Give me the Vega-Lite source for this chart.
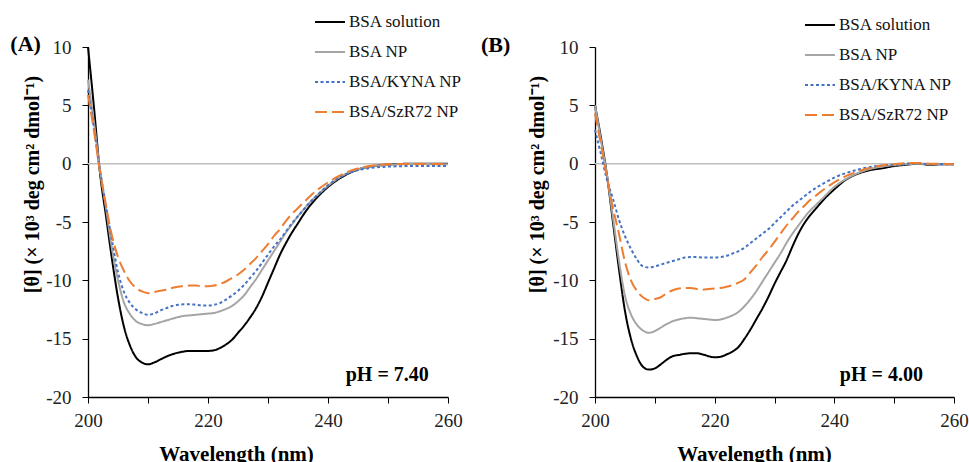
{
"$schema": "https://vega.github.io/schema/vega-lite/v6.json",
"padding": {"left": 10, "top": 6, "right": 0, "bottom": 0},
"spacing": 18,
"config": {"view": {"stroke": null}, "font": "Liberation Serif"},
"datasets": {
"A": [
{"s":"BSA solution","w":200,"v":10.0},{"s":"BSA solution","w":201,"v":4.8},{"s":"BSA solution","w":202,"v":-0.8},{"s":"BSA solution","w":203,"v":-4.5},{"s":"BSA solution","w":204,"v":-8.2},{"s":"BSA solution","w":205,"v":-11.5},{"s":"BSA solution","w":206,"v":-14.0},{"s":"BSA solution","w":207,"v":-15.6},{"s":"BSA solution","w":208,"v":-16.6},{"s":"BSA solution","w":209,"v":-17.05},{"s":"BSA solution","w":210,"v":-17.2},{"s":"BSA solution","w":211,"v":-17.05},{"s":"BSA solution","w":212,"v":-16.8},{"s":"BSA solution","w":213,"v":-16.55},{"s":"BSA solution","w":214,"v":-16.35},{"s":"BSA solution","w":215,"v":-16.2},{"s":"BSA solution","w":216,"v":-16.1},{"s":"BSA solution","w":217,"v":-16.05},{"s":"BSA solution","w":218,"v":-16.05},{"s":"BSA solution","w":219,"v":-16.05},{"s":"BSA solution","w":220,"v":-16.05},{"s":"BSA solution","w":221,"v":-16.0},{"s":"BSA solution","w":222,"v":-15.8},{"s":"BSA solution","w":223,"v":-15.5},{"s":"BSA solution","w":224,"v":-15.1},{"s":"BSA solution","w":225,"v":-14.5},{"s":"BSA solution","w":226,"v":-13.9},{"s":"BSA solution","w":227,"v":-13.2},{"s":"BSA solution","w":228,"v":-12.4},{"s":"BSA solution","w":229,"v":-11.4},{"s":"BSA solution","w":230,"v":-10.2},{"s":"BSA solution","w":231,"v":-9.0},{"s":"BSA solution","w":232,"v":-7.8},{"s":"BSA solution","w":233,"v":-6.8},{"s":"BSA solution","w":234,"v":-5.9},{"s":"BSA solution","w":235,"v":-5.1},{"s":"BSA solution","w":236,"v":-4.3},{"s":"BSA solution","w":237,"v":-3.6},{"s":"BSA solution","w":238,"v":-3.0},{"s":"BSA solution","w":240,"v":-2.0},{"s":"BSA solution","w":242,"v":-1.25},{"s":"BSA solution","w":244,"v":-0.7},{"s":"BSA solution","w":246,"v":-0.35},{"s":"BSA solution","w":248,"v":-0.18},{"s":"BSA solution","w":250,"v":-0.08},{"s":"BSA solution","w":252,"v":-0.03},{"s":"BSA solution","w":254,"v":0},{"s":"BSA solution","w":256,"v":0},{"s":"BSA solution","w":258,"v":0},{"s":"BSA solution","w":260,"v":0},
{"s":"BSA NP","w":200,"v":7.2},{"s":"BSA NP","w":201,"v":3.5},{"s":"BSA NP","w":202,"v":-0.5},{"s":"BSA NP","w":203,"v":-3.8},{"s":"BSA NP","w":204,"v":-7.3},{"s":"BSA NP","w":205,"v":-10.0},{"s":"BSA NP","w":206,"v":-11.9},{"s":"BSA NP","w":207,"v":-12.9},{"s":"BSA NP","w":208,"v":-13.5},{"s":"BSA NP","w":209,"v":-13.75},{"s":"BSA NP","w":210,"v":-13.85},{"s":"BSA NP","w":211,"v":-13.75},{"s":"BSA NP","w":212,"v":-13.6},{"s":"BSA NP","w":213,"v":-13.45},{"s":"BSA NP","w":214,"v":-13.3},{"s":"BSA NP","w":215,"v":-13.15},{"s":"BSA NP","w":216,"v":-13.05},{"s":"BSA NP","w":217,"v":-13.0},{"s":"BSA NP","w":218,"v":-12.95},{"s":"BSA NP","w":219,"v":-12.9},{"s":"BSA NP","w":220,"v":-12.85},{"s":"BSA NP","w":221,"v":-12.8},{"s":"BSA NP","w":222,"v":-12.65},{"s":"BSA NP","w":223,"v":-12.45},{"s":"BSA NP","w":224,"v":-12.2},{"s":"BSA NP","w":225,"v":-11.8},{"s":"BSA NP","w":226,"v":-11.3},{"s":"BSA NP","w":227,"v":-10.6},{"s":"BSA NP","w":228,"v":-9.9},{"s":"BSA NP","w":229,"v":-9.1},{"s":"BSA NP","w":230,"v":-8.3},{"s":"BSA NP","w":231,"v":-7.5},{"s":"BSA NP","w":232,"v":-6.7},{"s":"BSA NP","w":233,"v":-5.9},{"s":"BSA NP","w":234,"v":-5.2},{"s":"BSA NP","w":235,"v":-4.5},{"s":"BSA NP","w":236,"v":-3.9},{"s":"BSA NP","w":237,"v":-3.3},{"s":"BSA NP","w":238,"v":-2.8},{"s":"BSA NP","w":240,"v":-1.9},{"s":"BSA NP","w":242,"v":-1.15},{"s":"BSA NP","w":244,"v":-0.65},{"s":"BSA NP","w":246,"v":-0.35},{"s":"BSA NP","w":248,"v":-0.18},{"s":"BSA NP","w":250,"v":-0.1},{"s":"BSA NP","w":252,"v":-0.05},{"s":"BSA NP","w":254,"v":-0.03},{"s":"BSA NP","w":256,"v":-0.03},{"s":"BSA NP","w":258,"v":-0.05},{"s":"BSA NP","w":260,"v":-0.05},
{"s":"BSA/KYNA NP","w":200,"v":6.3},{"s":"BSA/KYNA NP","w":201,"v":3.0},{"s":"BSA/KYNA NP","w":202,"v":-0.6},{"s":"BSA/KYNA NP","w":203,"v":-3.6},{"s":"BSA/KYNA NP","w":204,"v":-6.6},{"s":"BSA/KYNA NP","w":205,"v":-9.3},{"s":"BSA/KYNA NP","w":206,"v":-11.0},{"s":"BSA/KYNA NP","w":207,"v":-11.95},{"s":"BSA/KYNA NP","w":208,"v":-12.5},{"s":"BSA/KYNA NP","w":209,"v":-12.8},{"s":"BSA/KYNA NP","w":210,"v":-12.95},{"s":"BSA/KYNA NP","w":211,"v":-12.85},{"s":"BSA/KYNA NP","w":212,"v":-12.6},{"s":"BSA/KYNA NP","w":213,"v":-12.4},{"s":"BSA/KYNA NP","w":214,"v":-12.2},{"s":"BSA/KYNA NP","w":215,"v":-12.1},{"s":"BSA/KYNA NP","w":216,"v":-12.05},{"s":"BSA/KYNA NP","w":217,"v":-12.05},{"s":"BSA/KYNA NP","w":218,"v":-12.1},{"s":"BSA/KYNA NP","w":219,"v":-12.15},{"s":"BSA/KYNA NP","w":220,"v":-12.15},{"s":"BSA/KYNA NP","w":221,"v":-12.1},{"s":"BSA/KYNA NP","w":222,"v":-11.95},{"s":"BSA/KYNA NP","w":223,"v":-11.65},{"s":"BSA/KYNA NP","w":224,"v":-11.3},{"s":"BSA/KYNA NP","w":225,"v":-10.9},{"s":"BSA/KYNA NP","w":226,"v":-10.4},{"s":"BSA/KYNA NP","w":227,"v":-9.8},{"s":"BSA/KYNA NP","w":228,"v":-9.2},{"s":"BSA/KYNA NP","w":229,"v":-8.5},{"s":"BSA/KYNA NP","w":230,"v":-7.8},{"s":"BSA/KYNA NP","w":231,"v":-7.1},{"s":"BSA/KYNA NP","w":232,"v":-6.5},{"s":"BSA/KYNA NP","w":233,"v":-5.8},{"s":"BSA/KYNA NP","w":234,"v":-5.1},{"s":"BSA/KYNA NP","w":235,"v":-4.5},{"s":"BSA/KYNA NP","w":236,"v":-3.9},{"s":"BSA/KYNA NP","w":237,"v":-3.3},{"s":"BSA/KYNA NP","w":238,"v":-2.8},{"s":"BSA/KYNA NP","w":240,"v":-1.85},{"s":"BSA/KYNA NP","w":242,"v":-1.15},{"s":"BSA/KYNA NP","w":244,"v":-0.7},{"s":"BSA/KYNA NP","w":246,"v":-0.45},{"s":"BSA/KYNA NP","w":248,"v":-0.32},{"s":"BSA/KYNA NP","w":250,"v":-0.25},{"s":"BSA/KYNA NP","w":252,"v":-0.22},{"s":"BSA/KYNA NP","w":254,"v":-0.2},{"s":"BSA/KYNA NP","w":256,"v":-0.2},{"s":"BSA/KYNA NP","w":258,"v":-0.2},{"s":"BSA/KYNA NP","w":260,"v":-0.2},
{"s":"BSA/SzR72 NP","w":200,"v":5.9},{"s":"BSA/SzR72 NP","w":201,"v":2.8},{"s":"BSA/SzR72 NP","w":202,"v":-0.7},{"s":"BSA/SzR72 NP","w":203,"v":-3.6},{"s":"BSA/SzR72 NP","w":204,"v":-6.2},{"s":"BSA/SzR72 NP","w":205,"v":-8.0},{"s":"BSA/SzR72 NP","w":206,"v":-9.2},{"s":"BSA/SzR72 NP","w":207,"v":-10.1},{"s":"BSA/SzR72 NP","w":208,"v":-10.65},{"s":"BSA/SzR72 NP","w":209,"v":-10.95},{"s":"BSA/SzR72 NP","w":210,"v":-11.1},{"s":"BSA/SzR72 NP","w":211,"v":-11.0},{"s":"BSA/SzR72 NP","w":212,"v":-10.9},{"s":"BSA/SzR72 NP","w":213,"v":-10.8},{"s":"BSA/SzR72 NP","w":214,"v":-10.65},{"s":"BSA/SzR72 NP","w":215,"v":-10.55},{"s":"BSA/SzR72 NP","w":216,"v":-10.5},{"s":"BSA/SzR72 NP","w":217,"v":-10.45},{"s":"BSA/SzR72 NP","w":218,"v":-10.45},{"s":"BSA/SzR72 NP","w":219,"v":-10.5},{"s":"BSA/SzR72 NP","w":220,"v":-10.5},{"s":"BSA/SzR72 NP","w":221,"v":-10.45},{"s":"BSA/SzR72 NP","w":222,"v":-10.3},{"s":"BSA/SzR72 NP","w":223,"v":-10.1},{"s":"BSA/SzR72 NP","w":224,"v":-9.8},{"s":"BSA/SzR72 NP","w":225,"v":-9.5},{"s":"BSA/SzR72 NP","w":226,"v":-9.1},{"s":"BSA/SzR72 NP","w":227,"v":-8.6},{"s":"BSA/SzR72 NP","w":228,"v":-8.1},{"s":"BSA/SzR72 NP","w":229,"v":-7.5},{"s":"BSA/SzR72 NP","w":230,"v":-6.9},{"s":"BSA/SzR72 NP","w":231,"v":-6.2},{"s":"BSA/SzR72 NP","w":232,"v":-5.6},{"s":"BSA/SzR72 NP","w":233,"v":-4.9},{"s":"BSA/SzR72 NP","w":234,"v":-4.3},{"s":"BSA/SzR72 NP","w":235,"v":-3.8},{"s":"BSA/SzR72 NP","w":236,"v":-3.3},{"s":"BSA/SzR72 NP","w":237,"v":-2.8},{"s":"BSA/SzR72 NP","w":238,"v":-2.35},{"s":"BSA/SzR72 NP","w":240,"v":-1.6},{"s":"BSA/SzR72 NP","w":242,"v":-1.0},{"s":"BSA/SzR72 NP","w":244,"v":-0.55},{"s":"BSA/SzR72 NP","w":246,"v":-0.28},{"s":"BSA/SzR72 NP","w":248,"v":-0.12},{"s":"BSA/SzR72 NP","w":250,"v":-0.05},{"s":"BSA/SzR72 NP","w":252,"v":-0.03},{"s":"BSA/SzR72 NP","w":254,"v":-0.02},{"s":"BSA/SzR72 NP","w":256,"v":-0.02},{"s":"BSA/SzR72 NP","w":258,"v":-0.02},{"s":"BSA/SzR72 NP","w":260,"v":-0.02}
],
"B": [
{"s":"BSA solution","w":200,"v":5.0},{"s":"BSA solution","w":201,"v":2.2},{"s":"BSA solution","w":202,"v":-1.0},{"s":"BSA solution","w":203,"v":-5.0},{"s":"BSA solution","w":204,"v":-9.0},{"s":"BSA solution","w":205,"v":-12.6},{"s":"BSA solution","w":206,"v":-15.0},{"s":"BSA solution","w":207,"v":-16.5},{"s":"BSA solution","w":208,"v":-17.4},{"s":"BSA solution","w":209,"v":-17.65},{"s":"BSA solution","w":210,"v":-17.55},{"s":"BSA solution","w":211,"v":-17.2},{"s":"BSA solution","w":212,"v":-16.8},{"s":"BSA solution","w":213,"v":-16.5},{"s":"BSA solution","w":214,"v":-16.4},{"s":"BSA solution","w":215,"v":-16.3},{"s":"BSA solution","w":216,"v":-16.25},{"s":"BSA solution","w":217,"v":-16.25},{"s":"BSA solution","w":218,"v":-16.35},{"s":"BSA solution","w":219,"v":-16.5},{"s":"BSA solution","w":220,"v":-16.6},{"s":"BSA solution","w":221,"v":-16.55},{"s":"BSA solution","w":222,"v":-16.35},{"s":"BSA solution","w":223,"v":-16.1},{"s":"BSA solution","w":224,"v":-15.7},{"s":"BSA solution","w":225,"v":-15.0},{"s":"BSA solution","w":226,"v":-14.2},{"s":"BSA solution","w":227,"v":-13.3},{"s":"BSA solution","w":228,"v":-12.4},{"s":"BSA solution","w":229,"v":-11.4},{"s":"BSA solution","w":230,"v":-10.3},{"s":"BSA solution","w":231,"v":-9.3},{"s":"BSA solution","w":232,"v":-8.3},{"s":"BSA solution","w":233,"v":-7.1},{"s":"BSA solution","w":234,"v":-6.0},{"s":"BSA solution","w":235,"v":-5.1},{"s":"BSA solution","w":236,"v":-4.4},{"s":"BSA solution","w":237,"v":-3.8},{"s":"BSA solution","w":238,"v":-3.2},{"s":"BSA solution","w":240,"v":-2.2},{"s":"BSA solution","w":242,"v":-1.35},{"s":"BSA solution","w":244,"v":-0.85},{"s":"BSA solution","w":246,"v":-0.55},{"s":"BSA solution","w":248,"v":-0.4},{"s":"BSA solution","w":250,"v":-0.2},{"s":"BSA solution","w":252,"v":-0.1},{"s":"BSA solution","w":254,"v":0.0},{"s":"BSA solution","w":256,"v":-0.1},{"s":"BSA solution","w":258,"v":-0.05},{"s":"BSA solution","w":260,"v":-0.05},
{"s":"BSA NP","w":200,"v":5.0},{"s":"BSA NP","w":201,"v":2.0},{"s":"BSA NP","w":202,"v":-1.0},{"s":"BSA NP","w":203,"v":-4.6},{"s":"BSA NP","w":204,"v":-8.3},{"s":"BSA NP","w":205,"v":-11.3},{"s":"BSA NP","w":206,"v":-12.9},{"s":"BSA NP","w":207,"v":-13.8},{"s":"BSA NP","w":208,"v":-14.3},{"s":"BSA NP","w":209,"v":-14.5},{"s":"BSA NP","w":210,"v":-14.35},{"s":"BSA NP","w":211,"v":-14.05},{"s":"BSA NP","w":212,"v":-13.75},{"s":"BSA NP","w":213,"v":-13.5},{"s":"BSA NP","w":214,"v":-13.35},{"s":"BSA NP","w":215,"v":-13.25},{"s":"BSA NP","w":216,"v":-13.2},{"s":"BSA NP","w":217,"v":-13.25},{"s":"BSA NP","w":218,"v":-13.3},{"s":"BSA NP","w":219,"v":-13.35},{"s":"BSA NP","w":220,"v":-13.4},{"s":"BSA NP","w":221,"v":-13.35},{"s":"BSA NP","w":222,"v":-13.2},{"s":"BSA NP","w":223,"v":-13.0},{"s":"BSA NP","w":224,"v":-12.7},{"s":"BSA NP","w":225,"v":-12.2},{"s":"BSA NP","w":226,"v":-11.6},{"s":"BSA NP","w":227,"v":-10.9},{"s":"BSA NP","w":228,"v":-10.1},{"s":"BSA NP","w":229,"v":-9.3},{"s":"BSA NP","w":230,"v":-8.5},{"s":"BSA NP","w":231,"v":-7.7},{"s":"BSA NP","w":232,"v":-6.8},{"s":"BSA NP","w":233,"v":-6.0},{"s":"BSA NP","w":234,"v":-5.3},{"s":"BSA NP","w":235,"v":-4.6},{"s":"BSA NP","w":236,"v":-4.0},{"s":"BSA NP","w":237,"v":-3.5},{"s":"BSA NP","w":238,"v":-3.0},{"s":"BSA NP","w":240,"v":-2.0},{"s":"BSA NP","w":242,"v":-1.3},{"s":"BSA NP","w":244,"v":-0.8},{"s":"BSA NP","w":246,"v":-0.45},{"s":"BSA NP","w":248,"v":-0.25},{"s":"BSA NP","w":250,"v":-0.12},{"s":"BSA NP","w":252,"v":-0.05},{"s":"BSA NP","w":254,"v":0},{"s":"BSA NP","w":256,"v":-0.05},{"s":"BSA NP","w":258,"v":-0.05},{"s":"BSA NP","w":260,"v":-0.05},
{"s":"BSA/KYNA NP","w":200,"v":2.9},{"s":"BSA/KYNA NP","w":201,"v":0.8},{"s":"BSA/KYNA NP","w":202,"v":-1.4},{"s":"BSA/KYNA NP","w":203,"v":-3.0},{"s":"BSA/KYNA NP","w":204,"v":-4.8},{"s":"BSA/KYNA NP","w":205,"v":-6.2},{"s":"BSA/KYNA NP","w":206,"v":-7.3},{"s":"BSA/KYNA NP","w":207,"v":-8.2},{"s":"BSA/KYNA NP","w":208,"v":-8.8},{"s":"BSA/KYNA NP","w":209,"v":-8.9},{"s":"BSA/KYNA NP","w":210,"v":-8.8},{"s":"BSA/KYNA NP","w":211,"v":-8.65},{"s":"BSA/KYNA NP","w":212,"v":-8.5},{"s":"BSA/KYNA NP","w":213,"v":-8.35},{"s":"BSA/KYNA NP","w":214,"v":-8.2},{"s":"BSA/KYNA NP","w":215,"v":-8.05},{"s":"BSA/KYNA NP","w":216,"v":-8.0},{"s":"BSA/KYNA NP","w":217,"v":-8.0},{"s":"BSA/KYNA NP","w":218,"v":-8.05},{"s":"BSA/KYNA NP","w":219,"v":-8.05},{"s":"BSA/KYNA NP","w":220,"v":-8.05},{"s":"BSA/KYNA NP","w":221,"v":-8.0},{"s":"BSA/KYNA NP","w":222,"v":-7.9},{"s":"BSA/KYNA NP","w":223,"v":-7.7},{"s":"BSA/KYNA NP","w":224,"v":-7.5},{"s":"BSA/KYNA NP","w":225,"v":-7.2},{"s":"BSA/KYNA NP","w":226,"v":-6.8},{"s":"BSA/KYNA NP","w":227,"v":-6.4},{"s":"BSA/KYNA NP","w":228,"v":-6.0},{"s":"BSA/KYNA NP","w":229,"v":-5.6},{"s":"BSA/KYNA NP","w":230,"v":-5.1},{"s":"BSA/KYNA NP","w":231,"v":-4.6},{"s":"BSA/KYNA NP","w":232,"v":-4.1},{"s":"BSA/KYNA NP","w":233,"v":-3.6},{"s":"BSA/KYNA NP","w":234,"v":-3.2},{"s":"BSA/KYNA NP","w":235,"v":-2.8},{"s":"BSA/KYNA NP","w":236,"v":-2.4},{"s":"BSA/KYNA NP","w":237,"v":-2.05},{"s":"BSA/KYNA NP","w":238,"v":-1.75},{"s":"BSA/KYNA NP","w":240,"v":-1.2},{"s":"BSA/KYNA NP","w":242,"v":-0.8},{"s":"BSA/KYNA NP","w":244,"v":-0.5},{"s":"BSA/KYNA NP","w":246,"v":-0.28},{"s":"BSA/KYNA NP","w":248,"v":-0.15},{"s":"BSA/KYNA NP","w":250,"v":-0.08},{"s":"BSA/KYNA NP","w":252,"v":0},{"s":"BSA/KYNA NP","w":254,"v":0.05},{"s":"BSA/KYNA NP","w":256,"v":-0.05},{"s":"BSA/KYNA NP","w":258,"v":-0.05},{"s":"BSA/KYNA NP","w":260,"v":-0.05},
{"s":"BSA/SzR72 NP","w":200,"v":4.3},{"s":"BSA/SzR72 NP","w":201,"v":1.6},{"s":"BSA/SzR72 NP","w":202,"v":-1.2},{"s":"BSA/SzR72 NP","w":203,"v":-3.8},{"s":"BSA/SzR72 NP","w":204,"v":-6.0},{"s":"BSA/SzR72 NP","w":205,"v":-8.4},{"s":"BSA/SzR72 NP","w":206,"v":-10.0},{"s":"BSA/SzR72 NP","w":207,"v":-10.9},{"s":"BSA/SzR72 NP","w":208,"v":-11.45},{"s":"BSA/SzR72 NP","w":209,"v":-11.7},{"s":"BSA/SzR72 NP","w":210,"v":-11.6},{"s":"BSA/SzR72 NP","w":211,"v":-11.45},{"s":"BSA/SzR72 NP","w":212,"v":-11.1},{"s":"BSA/SzR72 NP","w":213,"v":-10.85},{"s":"BSA/SzR72 NP","w":214,"v":-10.7},{"s":"BSA/SzR72 NP","w":215,"v":-10.65},{"s":"BSA/SzR72 NP","w":216,"v":-10.65},{"s":"BSA/SzR72 NP","w":217,"v":-10.75},{"s":"BSA/SzR72 NP","w":218,"v":-10.8},{"s":"BSA/SzR72 NP","w":219,"v":-10.75},{"s":"BSA/SzR72 NP","w":220,"v":-10.7},{"s":"BSA/SzR72 NP","w":221,"v":-10.65},{"s":"BSA/SzR72 NP","w":222,"v":-10.55},{"s":"BSA/SzR72 NP","w":223,"v":-10.4},{"s":"BSA/SzR72 NP","w":224,"v":-10.2},{"s":"BSA/SzR72 NP","w":225,"v":-9.9},{"s":"BSA/SzR72 NP","w":226,"v":-9.3},{"s":"BSA/SzR72 NP","w":227,"v":-8.7},{"s":"BSA/SzR72 NP","w":228,"v":-8.0},{"s":"BSA/SzR72 NP","w":229,"v":-7.4},{"s":"BSA/SzR72 NP","w":230,"v":-6.7},{"s":"BSA/SzR72 NP","w":231,"v":-6.0},{"s":"BSA/SzR72 NP","w":232,"v":-5.3},{"s":"BSA/SzR72 NP","w":233,"v":-4.7},{"s":"BSA/SzR72 NP","w":234,"v":-4.1},{"s":"BSA/SzR72 NP","w":235,"v":-3.6},{"s":"BSA/SzR72 NP","w":236,"v":-3.1},{"s":"BSA/SzR72 NP","w":237,"v":-2.7},{"s":"BSA/SzR72 NP","w":238,"v":-2.3},{"s":"BSA/SzR72 NP","w":240,"v":-1.6},{"s":"BSA/SzR72 NP","w":242,"v":-1.05},{"s":"BSA/SzR72 NP","w":244,"v":-0.65},{"s":"BSA/SzR72 NP","w":246,"v":-0.35},{"s":"BSA/SzR72 NP","w":248,"v":-0.15},{"s":"BSA/SzR72 NP","w":250,"v":-0.05},{"s":"BSA/SzR72 NP","w":252,"v":0.05},{"s":"BSA/SzR72 NP","w":254,"v":0.05},{"s":"BSA/SzR72 NP","w":256,"v":0},{"s":"BSA/SzR72 NP","w":258,"v":0},{"s":"BSA/SzR72 NP","w":260,"v":-0.05}
]
},
"hconcat": [
{
"width": 360, "height": 350,
"layer": [
{"data": {"values": [{"v": 0}]}, "mark": {"type": "rule", "color": "#bfbfbf", "strokeWidth": 1.5},
 "encoding": {"y": {"field": "v", "type": "quantitative", "scale": {"domain": [-20, 10], "nice": false, "zero": false}}}},
{"data": {"name": "A"}, "mark": {"type": "line", "interpolate": "monotone", "strokeWidth": 2},
 "encoding": {
  "x": {"field": "w", "type": "quantitative", "scale": {"domain": [200, 260], "nice": false, "zero": false},
   "axis": {"values": [200,205,210,215,220,225,230,235,240,245,250,255,260], "labelExpr": "datum.value % 20 === 0 ? datum.label : ''", "labelOverlap": false, "labelFlush": false, "title": "Wavelength (nm)", "titleX": 148, "titleY": 63, "titleBaseline": "alphabetic", "titleFontSize": 21, "titleFontWeight": "bold", "titleColor": "#000", "labelFontSize": 19, "labelColor": "#222", "labelPadding": 8, "tickSize": 6, "tickColor": "#000", "domainColor": "#000", "domainWidth": 1.3, "grid": false}},
  "y": {"field": "v", "type": "quantitative", "scale": {"domain": [-20, 10], "nice": false, "zero": false},
   "axis": {"values": [-20,-15,-10,-5,0,5,10], "labelExpr": "'' + datum.value", "labelOverlap": false, "labelFlush": false, "title": "[θ] (× 10³ deg cm² dmol⁻¹)", "titleX": -56, "titleY": 137, "titleBaseline": "middle", "titleFontSize": 20, "titleFontWeight": "bold", "titleColor": "#000", "labelFontSize": 19, "labelColor": "#222", "labelPadding": 11, "tickSize": 6, "tickColor": "#000", "domainColor": "#000", "domainWidth": 1.3, "grid": false}},
  "color": {"field": "s", "type": "nominal", "scale": {"domain": ["BSA solution","BSA NP","BSA/KYNA NP","BSA/SzR72 NP"], "range": ["#000000","#a5a5a5","#4472c4","#ed7d31"]},
   "legend": {"orient": "none", "legendX": 226, "legendY": -41, "title": null, "labelFontSize": 17, "labelFont": "Liberation Serif", "labelColor": "#111", "symbolType": "stroke", "symbolSize": 900, "symbolStrokeWidth": 2, "rowPadding": 6, "labelOffset": 3}},
  "strokeDash": {"field": "s", "type": "nominal", "scale": {"domain": ["BSA solution","BSA NP","BSA/KYNA NP","BSA/SzR72 NP"], "range": [[1,0],[1,0],[3,2.5],[12,5]]},
   "legend": {"orient": "none", "legendX": 226, "legendY": -41, "title": null, "labelFontSize": 17, "labelFont": "Liberation Serif", "labelColor": "#111", "symbolType": "stroke", "symbolSize": 900, "symbolStrokeWidth": 2, "rowPadding": 6, "labelOffset": 3}}
 }},
{"data": {"values": [{"t": "(A)", "w": 189.6, "v": 10.3}]}, "mark": {"type": "text", "fontWeight": "bold", "fontSize": 22, "align": "center", "baseline": "middle", "color": "#000"},
 "encoding": {"x": {"field": "w", "type": "quantitative", "scale": {"domain": [200, 260]}}, "y": {"field": "v", "type": "quantitative", "scale": {"domain": [-20, 10]}}, "text": {"field": "t"}}},
{"data": {"values": [{"t": "pH = 7.40", "w": 256.8, "v": -18.1}]}, "mark": {"type": "text", "fontWeight": "bold", "fontSize": 20, "align": "right", "baseline": "middle", "color": "#000"},
 "encoding": {"x": {"field": "w", "type": "quantitative", "scale": {"domain": [200, 260]}}, "y": {"field": "v", "type": "quantitative", "scale": {"domain": [-20, 10]}}, "text": {"field": "t"}}}
]
},
{
"width": 359, "height": 350,
"layer": [
{"data": {"values": [{"v": 0}]}, "mark": {"type": "rule", "color": "#bfbfbf", "strokeWidth": 1.5},
 "encoding": {"y": {"field": "v", "type": "quantitative", "scale": {"domain": [-20, 10], "nice": false, "zero": false}}}},
{"data": {"name": "B"}, "mark": {"type": "line", "interpolate": "monotone", "strokeWidth": 2},
 "encoding": {
  "x": {"field": "w", "type": "quantitative", "scale": {"domain": [200, 260], "nice": false, "zero": false},
   "axis": {"values": [200,205,210,215,220,225,230,235,240,245,250,255,260], "labelExpr": "datum.value % 20 === 0 ? datum.label : ''", "labelOverlap": false, "labelFlush": false, "title": "Wavelength (nm)", "titleX": 159, "titleY": 63, "titleBaseline": "alphabetic", "titleFontSize": 21, "titleFontWeight": "bold", "titleColor": "#000", "labelFontSize": 19, "labelColor": "#222", "labelPadding": 8, "tickSize": 6, "tickColor": "#000", "domainColor": "#000", "domainWidth": 1.3, "grid": false}},
  "y": {"field": "v", "type": "quantitative", "scale": {"domain": [-20, 10], "nice": false, "zero": false},
   "axis": {"values": [-20,-15,-10,-5,0,5,10], "labelExpr": "'' + datum.value", "labelOverlap": false, "labelFlush": false, "title": "[θ] (× 10³ deg cm² dmol⁻¹)", "titleX": -58, "titleY": 137, "titleBaseline": "middle", "titleFontSize": 20, "titleFontWeight": "bold", "titleColor": "#000", "labelFontSize": 19, "labelColor": "#222", "labelPadding": 11, "tickSize": 6, "tickColor": "#000", "domainColor": "#000", "domainWidth": 1.3, "grid": false}},
  "color": {"field": "s", "type": "nominal", "scale": {"domain": ["BSA solution","BSA NP","BSA/KYNA NP","BSA/SzR72 NP"], "range": ["#000000","#a5a5a5","#4472c4","#ed7d31"]},
   "legend": {"orient": "none", "legendX": 209, "legendY": -38, "title": null, "labelFontSize": 17, "labelFont": "Liberation Serif", "labelColor": "#111", "symbolType": "stroke", "symbolSize": 900, "symbolStrokeWidth": 2, "rowPadding": 6, "labelOffset": 3}},
  "strokeDash": {"field": "s", "type": "nominal", "scale": {"domain": ["BSA solution","BSA NP","BSA/KYNA NP","BSA/SzR72 NP"], "range": [[1,0],[1,0],[3,2.5],[12,5]]},
   "legend": {"orient": "none", "legendX": 209, "legendY": -38, "title": null, "labelFontSize": 17, "labelFont": "Liberation Serif", "labelColor": "#111", "symbolType": "stroke", "symbolSize": 900, "symbolStrokeWidth": 2, "rowPadding": 6, "labelOffset": 3}}
 }},
{"data": {"values": [{"t": "(B)", "w": 183.4, "v": 10.2}]}, "mark": {"type": "text", "fontWeight": "bold", "fontSize": 22, "align": "center", "baseline": "middle", "color": "#000"},
 "encoding": {"x": {"field": "w", "type": "quantitative", "scale": {"domain": [200, 260]}}, "y": {"field": "v", "type": "quantitative", "scale": {"domain": [-20, 10]}}, "text": {"field": "t"}}},
{"data": {"values": [{"t": "pH = 4.00", "w": 254.8, "v": -18.1}]}, "mark": {"type": "text", "fontWeight": "bold", "fontSize": 20, "align": "right", "baseline": "middle", "color": "#000"},
 "encoding": {"x": {"field": "w", "type": "quantitative", "scale": {"domain": [200, 260]}}, "y": {"field": "v", "type": "quantitative", "scale": {"domain": [-20, 10]}}, "text": {"field": "t"}}}
]
}
],
"resolve": {"legend": {"color": "independent", "strokeDash": "independent"}, "scale": {"x": "independent", "y": "independent"}}
}
